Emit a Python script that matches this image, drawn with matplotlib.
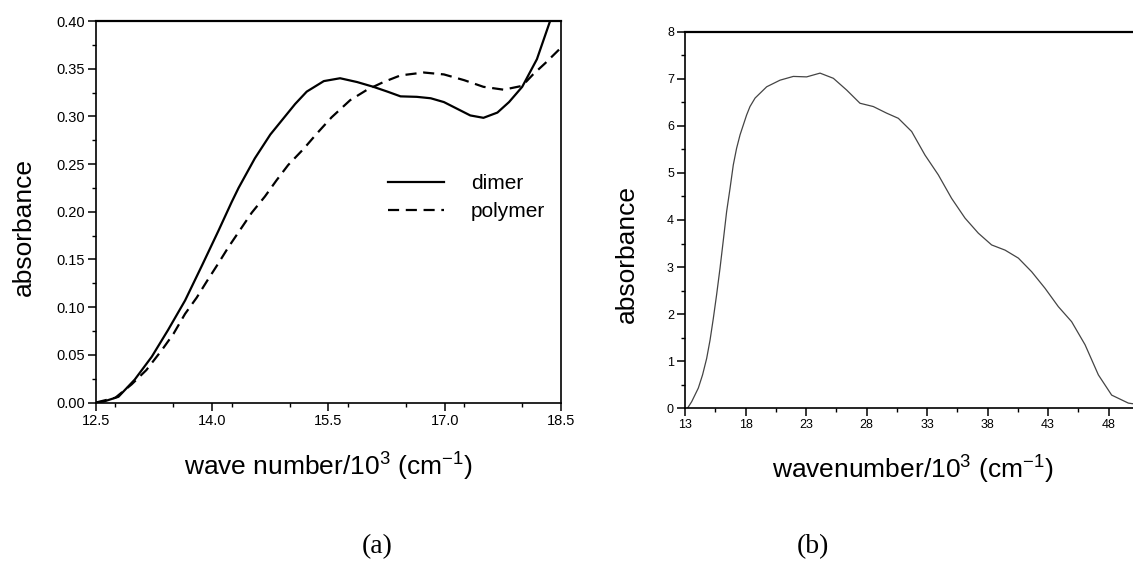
import matplotlib
matplotlib.use("Agg")
import matplotlib.pyplot as plt
from matplotlib.ticker import FixedLocator, MultipleLocator, FormatStrFormatter

# ---------------- data (a) ----------------
dimer_x = [12.5, 12.6, 12.79, 13.0, 13.22, 13.43, 13.65, 13.87, 14.08, 14.25,
           14.34, 14.55, 14.75, 14.94, 15.07, 15.22, 15.44, 15.65, 15.87, 16.08,
           16.26, 16.43, 16.64, 16.82, 16.99, 17.16, 17.33, 17.5, 17.68, 17.83,
           18.0, 18.19, 18.36]
dimer_y = [0.0, 0.001, 0.006, 0.024, 0.048, 0.076, 0.107, 0.144, 0.180, 0.210,
           0.225, 0.256, 0.281, 0.300, 0.313, 0.326, 0.337, 0.340, 0.336, 0.331,
           0.326, 0.321, 0.3205, 0.319, 0.315, 0.308, 0.301, 0.2985, 0.304, 0.315,
           0.331, 0.360, 0.400]

polymer_x = [12.5, 12.75, 12.96, 13.15, 13.35, 13.5, 13.65, 13.8, 13.93, 14.08,
             14.21, 14.36, 14.51, 14.68, 14.83, 14.98, 15.18, 15.35, 15.54, 15.78,
             16.0, 16.21, 16.43, 16.73, 16.99, 17.25, 17.5, 17.76, 18.0, 18.14,
             18.3, 18.5]
polymer_y = [0.0, 0.005, 0.019, 0.034, 0.055, 0.072, 0.093, 0.110, 0.127, 0.146,
             0.163, 0.181, 0.199, 0.216, 0.233, 0.249, 0.266, 0.282, 0.299, 0.317,
             0.328, 0.336, 0.343, 0.346, 0.344, 0.338, 0.331, 0.328, 0.332, 0.344,
             0.356, 0.372]

# ---------------- data (b) ----------------
wn_x = [13.2, 13.55, 14.1, 14.45, 14.79, 15.07, 15.34, 15.61, 15.89, 16.17,
        16.44, 16.72, 16.99, 17.26, 17.55, 17.82, 18.09, 18.37, 18.79, 19.75,
        20.85, 21.95, 23.05, 24.16, 25.26, 26.36, 27.46, 28.56, 29.66, 30.63,
        31.73, 32.83, 33.93, 35.03, 36.14, 37.24, 38.34, 39.45, 40.55, 41.65,
        42.75, 43.85, 44.95, 46.06, 47.16, 48.26, 49.64, 50.5]
wn_y = [0.0, 0.14, 0.43, 0.71, 1.06, 1.45, 1.91, 2.41, 2.97, 3.58,
        4.18, 4.67, 5.17, 5.52, 5.81, 6.02, 6.23, 6.41, 6.59, 6.83,
        6.97, 7.05, 7.04, 7.12, 7.01, 6.76, 6.48, 6.41, 6.27, 6.16,
        5.88, 5.38, 4.96, 4.46, 4.04, 3.72, 3.47, 3.36, 3.19, 2.90,
        2.55, 2.16, 1.84, 1.35, 0.71, 0.28, 0.11, 0.08]

left_xticks = [12.5, 14.0, 15.5, 17.0, 18.5]
right_xticks = [13, 18, 23, 28, 33, 38, 43, 48]

# ---------------- style ----------------
plt.rcParams['font.family'] = ['Liberation Sans', 'DejaVu Sans']
plt.rcParams['mathtext.default'] = 'regular'

fig = plt.figure(figsize=(11.33, 5.62), dpi=100, facecolor='white')

# ================= (a) =================
ax1 = fig.add_axes([0.0847, 0.2838, 0.4104, 0.6788])
ax1.plot(dimer_x, dimer_y, color='black', lw=1.6, label='dimer')
ax1.plot(polymer_x, polymer_y, color='black', lw=1.6, ls=(0, (5, 3)), label='polymer')
ax1.set_xlim(12.5, 18.5)
ax1.set_ylim(0, 0.40)
ax1.xaxis.set_major_locator(FixedLocator(left_xticks))
ax1.xaxis.set_minor_locator(MultipleLocator(0.75))
ax1.yaxis.set_major_locator(MultipleLocator(0.05))
ax1.yaxis.set_minor_locator(MultipleLocator(0.025))
ax1.yaxis.set_major_formatter(FormatStrFormatter('%.2f'))
ax1.xaxis.set_major_formatter(FormatStrFormatter('%.1f'))
ax1.tick_params(which='major', direction='out', length=6, width=1.1, labelsize=10.5, pad=2)
ax1.tick_params(which='minor', direction='out', length=3, width=1.0)
for s in ax1.spines.values():
    s.set_linewidth(1.2)
ax1.spines['top'].set_linewidth(1.6)
ax1.set_ylabel('absorbance', fontsize=19)
ax1.yaxis.set_label_coords(-0.13, 0.46)
ax1.set_xlabel(r'wave number/10$^3$ (cm$^{-1}$)', fontsize=19)
ax1.xaxis.set_label_coords(0.5, -0.127)
ax1.legend(loc='center left', bbox_to_anchor=(0.587, 0.537), frameon=False,
           fontsize=15, handlelength=2.7, handletextpad=1.3, labelspacing=0.45)

# ================= (b) =================
ax2 = fig.add_axes([0.6046, 0.2735, 0.4272, 0.6701])
ax2.plot(wn_x, wn_y, color='#444444', lw=0.9)
ax2.set_xlim(13, 53)
ax2.set_ylim(0, 8)
ax2.xaxis.set_major_locator(FixedLocator(right_xticks))
ax2.xaxis.set_minor_locator(FixedLocator([x + 2.5 for x in right_xticks]))
ax2.yaxis.set_major_locator(MultipleLocator(1))
ax2.yaxis.set_minor_locator(MultipleLocator(0.5))
ax2.tick_params(which='major', direction='out', length=6, width=1.1, labelsize=9, pad=2)
ax2.tick_params(which='minor', direction='out', length=3, width=1.0)
for s in ax2.spines.values():
    s.set_linewidth(1.2)
ax2.spines['top'].set_linewidth(1.6)
ax2.set_ylabel('absorbance', fontsize=19)
ax2.yaxis.set_label_coords(-0.096, 0.41)
ax2.set_xlabel(r'wavenumber/10$^3$ (cm$^{-1}$)', fontsize=19)
ax2.xaxis.set_label_coords(0.47, -0.121)

# ---------------- panel captions ----------------
fig.text(377 / 1133, 1 - 547 / 562, '(a)', family='Liberation Serif', fontsize=20,
         ha='center', va='center')
fig.text(813 / 1133, 1 - 547 / 562, '(b)', family='Liberation Serif', fontsize=20,
         ha='center', va='center')

fig.savefig('out.png', dpi=100, facecolor='white')
